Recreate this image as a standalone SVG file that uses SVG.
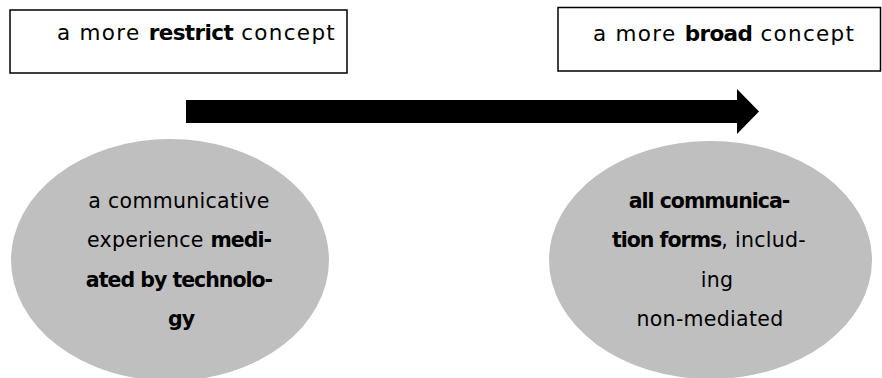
<svg xmlns="http://www.w3.org/2000/svg" width="882" height="378" viewBox="0 0 882 378">
<style>
.box{fill:#fff;stroke:#000;stroke-width:1.5}
.ell{fill:#bfbfbf;stroke:none}
text{font-family:"DejaVu Sans","Liberation Sans",sans-serif;fill:#000}
.bt{font-size:21.5px;letter-spacing:1.3px}
.bt .b{letter-spacing:-0.6px}
.et{font-size:20.5px;text-anchor:middle;letter-spacing:0.3px}
.b{font-weight:bold}
.et .b,.et.b{letter-spacing:-1px}
.arrow{fill:#000}
</style>
<rect width="882" height="378" fill="#fff"/>
<g id="node-restrict">
<rect class="box" x="10" y="10" width="337" height="63"/>
<text class="bt" x="57" y="40">a more <tspan class="b">restrict</tspan> concept</text>
</g>
<g id="node-broad">
<rect class="box" x="558" y="7.5" width="322.5" height="63.5"/>
<text class="bt" x="593" y="41">a more <tspan class="b">broad</tspan> concept</text>
</g>
<g id="connectors">
<polygon class="arrow" points="186,100 737,100 737,89 759,111.5 737,134 737,123 186,123"/>
</g>
<g id="node-mediated">
<ellipse class="ell" cx="170" cy="260" rx="159" ry="121"/>
<text class="et" x="179" y="208">a communicative</text>
<text class="et" x="179" y="247">experience <tspan class="b">medi-</tspan></text>
<text class="et b" x="179" y="287">ated by technolo-</text>
<text class="et b" x="181" y="326">gy</text>
</g>
<g id="node-all">
<ellipse class="ell" cx="710.5" cy="260" rx="161.5" ry="119"/>
<text class="et b" x="709" y="208">all communica-</text>
<text class="et" x="709" y="247"><tspan class="b">tion forms</tspan>, includ-</text>
<text class="et" x="717" y="287">ing</text>
<text class="et" x="710" y="326">non-mediated</text>
</g>
</svg>
